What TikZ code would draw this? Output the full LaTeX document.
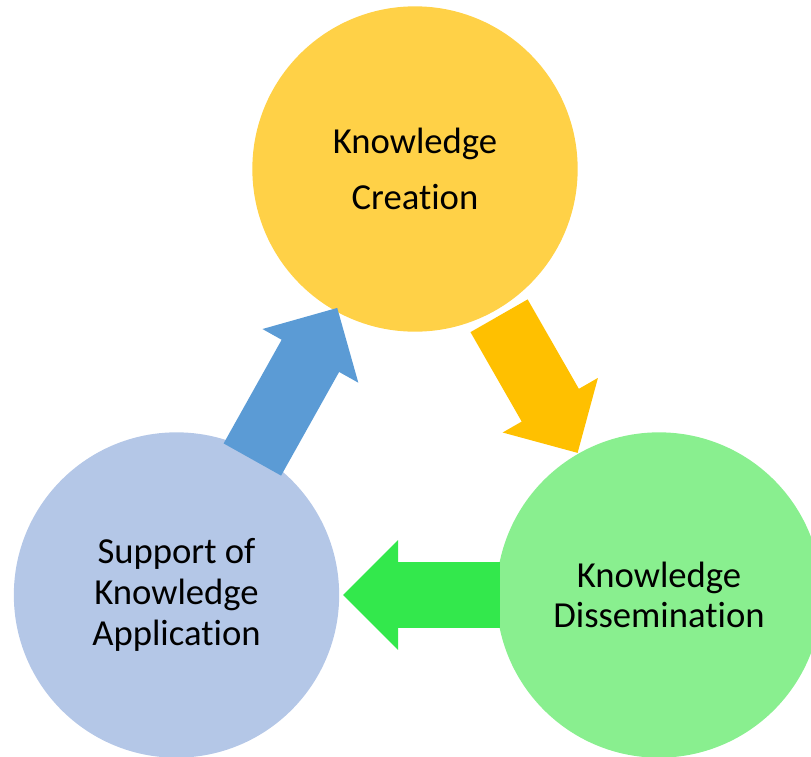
\documentclass[tikz,border=0pt]{standalone}
\usepackage{fontspec}
\setmainfont{Carlito}[Ligatures={NoCommon,NoContextual,NoRare}]
\usetikzlibrary{shapes.arrows}
\definecolor{creationfill}{HTML}{FFD147}
\definecolor{dissemfill}{HTML}{89EF8F}
\definecolor{applyfill}{HTML}{B4C7E7}
\definecolor{creationarrow}{HTML}{FFC000}
\definecolor{dissemarrow}{HTML}{33E84C}
\definecolor{applyarrow}{HTML}{5B9BD5}
% keeps "t" and "i" apart (Carlito joins them)
\newcommand{\tisplit}{t\kern0pt i}
\tikzset{
  topic/.style={circle, inner sep=0pt, minimum size=244pt, align=center, font=\fontsize{27.5pt}{30.5pt}\selectfont},
  creation/.style={topic, fill=creationfill},
  dissem/.style={topic, fill=dissemfill},
  application/.style={topic, fill=applyfill},
  flowarrow/.style={single arrow, sloped, allow upside down, anchor=tail, inner xsep=0pt, inner ysep=24.5pt,
    single arrow head extend=16.5pt, single arrow tip angle=90, single arrow head indent=0pt, minimum width=0pt}
}

\begin{document}
\begin{tikzpicture}[x=0.75pt, y=-0.75pt]
  \useasboundingbox (0,0) rectangle (811,757);
  % Nodes
  \node[creation] (create) at (415,169) {Knowledge\\[12pt]Crea\tisplit on};
  \node[dissem] (spread) at (659,595) {Knowledge\\Dissemina\tisplit on};
  \node[application] (apply) at (176.5,595) {Support of\\Knowledge\\Applica\tisplit on};

  % Arrows
  \path (create.center) -- node[flowarrow, pos=0.344, minimum height=118.5pt, fill=creationarrow] (down) {} (spread.center);
  \path (spread.center) -- node[flowarrow, pos=0.3295, minimum height=117.5pt, fill=dissemarrow] (left) {} (apply.center);
  \path (apply.center) -- node[flowarrow, pos=0.3175, minimum height=130.3pt, fill=applyarrow] (up) {} (create.center);
\end{tikzpicture}
\end{document}
